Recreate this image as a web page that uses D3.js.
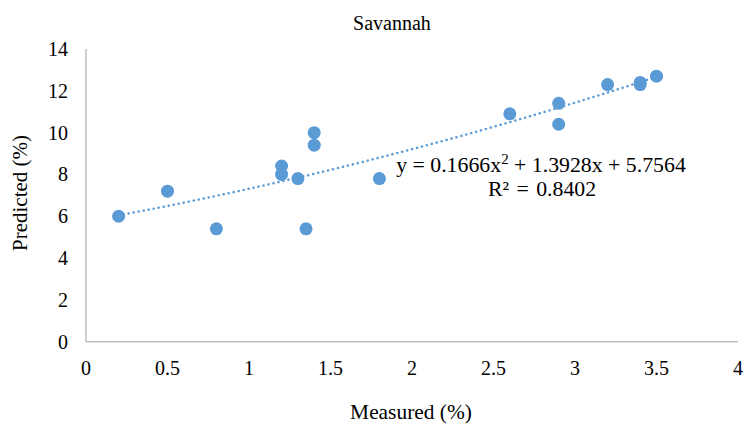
<!DOCTYPE html>
<html><head><meta charset="utf-8">
<script src="https://cdn.jsdelivr.net/npm/d3@7"></script>
<style>body{margin:0;background:#fff}svg{display:block}text{font-family:"Liberation Serif","Times New Roman",serif;fill:#000}</style>
</head><body>
<script>
const measured = [0.2, 0.5, 0.8, 1.2, 1.2, 1.3, 1.35, 1.4, 1.4, 1.8, 2.6, 2.9, 2.9, 3.2, 3.4, 3.4, 3.5];
const predicted = [6.0, 7.2, 5.4, 8.4, 8.0, 7.8, 5.4, 10.0, 9.4, 7.8, 10.9, 11.4, 10.4, 12.3, 12.4, 12.3, 12.7];
const xTicks = [0, 0.5, 1, 1.5, 2, 2.5, 3, 3.5, 4];
const yTicks = [0, 2, 4, 6, 8, 10, 12, 14];
const trendCoef = [0.1666, 1.3928, 5.7564];
const rSquared = "0.8402";
const title = "Savannah";
const xLabel = "Measured (%)";
const yLabel = "Predicted (%)";

const W = 746, H = 426;
const svg = d3.select("body").append("svg").attr("width", W).attr("height", H);
const x = d3.scaleLinear().domain([0, 4]).range([86, 738]);
const y = d3.scaleLinear().domain([0, 14]).range([341.7, 49]);
const color = "#5B9BD5";

// axes
svg.append("line").attr("x1", x(0)).attr("x2", x(4)).attr("y1", y(0)).attr("y2", y(0)).attr("stroke", "#bfbfbf").attr("stroke-width", 1.5);
svg.append("line").attr("x1", x(0)).attr("x2", x(0)).attr("y1", y(0)).attr("y2", y(14)).attr("stroke", "#bfbfbf").attr("stroke-width", 1.5);

svg.selectAll(".xt").data(xTicks).enter().append("text")
  .attr("x", d => x(d)).attr("y", 375).attr("text-anchor", "middle").attr("font-size", 20).text(d => d);
svg.selectAll(".yt").data(yTicks).enter().append("text")
  .attr("x", 68).attr("y", d => y(d) + 7).attr("text-anchor", "end").attr("font-size", 20).text(d => d);

// trendline
const xs = d3.range(0, 101).map(i => d3.min(measured) + (d3.max(measured) - d3.min(measured)) * i / 100);
const line = d3.line().x(d => x(d)).y(d => y(trendCoef[0] * d * d + trendCoef[1] * d + trendCoef[2]));
svg.append("path").datum(xs).attr("d", line).attr("fill", "none").attr("stroke", color)
  .attr("stroke-width", 2.5).attr("stroke-dasharray", "0.1,5").attr("stroke-linecap", "round");

// points
svg.selectAll(".pt").data(measured.map((m, i) => [m, predicted[i]])).enter().append("circle")
  .attr("cx", d => x(d[0])).attr("cy", d => y(d[1])).attr("r", 6.5).attr("fill", color);

// labels
svg.append("text").attr("x", 392).attr("y", 30).attr("text-anchor", "middle").attr("font-size", 20).text(title);
svg.append("text").attr("x", 411).attr("y", 419).attr("text-anchor", "middle").attr("font-size", 21.4).text(xLabel);
svg.append("text").attr("transform", "translate(27,193) rotate(-90)").attr("text-anchor", "middle").attr("font-size", 21).text(yLabel);

const eq = svg.append("text").attr("x", 541).attr("y", 172).attr("text-anchor", "middle").attr("font-size", 21.8);
eq.append("tspan").text("y = " + trendCoef[0] + "x");
eq.append("tspan").attr("font-size", 15).attr("dy", -8).text("2");
eq.append("tspan").attr("dy", 8).text(" + " + trendCoef[1] + "x + " + trendCoef[2]);
svg.append("text").attr("x", 542).attr("y", 196).attr("text-anchor", "middle").attr("font-size", 21.8).attr("word-spacing", 2).text("R² = " + rSquared);
</script>
</body></html>
